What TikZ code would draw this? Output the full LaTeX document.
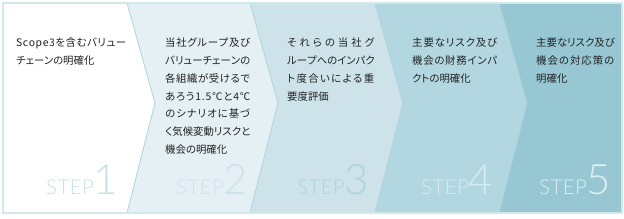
\documentclass[tikz,border=0pt]{standalone}
\usepackage{xcolor}
\usepackage{fontspec}
\usepackage{tikz}
\newfontfamily\jpfont[RawFeature=+palt]{Noto Sans CJK JP}
\newfontfamily\stepfont[LetterSpace=2]{Lato Light}
\definecolor{cerceveMavi}{HTML}{D3E8EC}
\definecolor{ayracMavi}{HTML}{ADD3DD}
\definecolor{yaziSiyah}{HTML}{222222}
\definecolor{zeminBir}{HTML}{FFFFFF}
\definecolor{zeminIki}{HTML}{E4F0F3}
\definecolor{zeminUc}{HTML}{CDE3E9}
\definecolor{zeminDort}{HTML}{B2D7E0}
\definecolor{zeminBes}{HTML}{97C7D3}
\definecolor{adimBir}{HTML}{C8E1E8}
\definecolor{adimIki}{HTML}{CCE3E9}
\definecolor{adimUc}{HTML}{AED4DE}
\definecolor{adimDort}{HTML}{D6EBF0}
\definecolor{adimBes}{HTML}{DCEEF2}
\newcommand{\adimyaz}[1]{{\fontsize{20.5}{20.5}\selectfont STEP}{\fontsize{42}{42}\selectfont\kern-1pt #1}}
% iki yana yaslanmis satir
\newlength{\satirgenis}
\def\yayi#1{\ifx#1\relax\unskip\else#1\hfil\expandafter\yayi\fi}
\newcommand{\yay}[1]{\makebox[\satirgenis][s]{\yayi#1\relax}}

\begin{document}
\begin{tikzpicture}[x=1pt,y=-1pt,
  metin/.style={anchor=north west,inner sep=0pt,align=left,text=yaziSiyah,
    font=\jpfont\fontsize{10.4}{17.7}\selectfont,
    execute at begin node={\setlength{\satirgenis}{#1pt}}},
  adim/.style={anchor=base west,inner sep=0pt,font=\stepfont}]
\useasboundingbox (0,0) rectangle (624,218);
% zeminler
\fill[zeminBir] (3,3)--(127,3)--(155,103)--(127,213)--(3,213)--cycle;
\fill[zeminIki] (127,3)--(250,3)--(278,103)--(250,213)--(127,213)--(155,103)--cycle;
\fill[zeminUc] (250,3)--(375,3)--(403,103)--(375,213)--(250,213)--(278,103)--cycle;
\fill[zeminDort] (375,3)--(499,3)--(527,103)--(499,213)--(375,213)--(403,103)--cycle;
\fill[zeminBes] (499,3)--(622,3)--(622,213)--(499,213)--(527,103)--cycle;
% ayraclar
\draw[ayracMavi,line width=0.8pt] (127,3)--(155,103)--(127,213);
\draw[ayracMavi,line width=0.8pt] (250,3)--(278,103)--(250,213);
\draw[ayracMavi,line width=0.8pt] (375,3)--(403,103)--(375,213);
\draw[ayracMavi,line width=0.8pt] (499,3)--(527,103)--(499,213);
\draw[cerceveMavi,line width=2pt] (3,3) rectangle (622,213);
% metinler
\node[metin=110] (metin1) at (16,38) {\yay{Scope3を含むバリュー}\\チェーンの明確化};
\node[metin=85] (metin2) at (165,38) {\yay{当社グループ及び}\\\yay{バリューチェーンの}\\\yay{各組織が受けるで}\\\yay{あろう1.5℃と4℃}\\\yay{のシナリオに基づ}\\\yay{く気候変動リスクと}\\機会の明確化};
\node[metin=87] (metin3) at (287,38) {\yay{それらの当社グ}\\\yay{ループへのインパク}\\\yay{ト度合いによる重}\\要度評価};
\node[metin=85] (metin4) at (412,38) {\yay{主要なリスク及び}\\\yay{機会の財務インパ}\\クトの明確化};
\node[metin=78] (metin5) at (536,38) {\yay{主要なリスク及び}\\\yay{機会の対応策の}\\明確化};
% adimlar
\node[adim,text=adimBir] (adim1) at (46,194) {\adimyaz{1}};
\node[adim,text=adimIki] (adim2) at (176,194) {\adimyaz{2}};
\node[adim,text=adimUc] (adim3) at (297,194) {\adimyaz{3}};
\node[adim,text=adimDort] (adim4) at (421,194) {\adimyaz{4}};
\node[adim,text=adimBes] (adim5) at (539,194) {\adimyaz{5}};
\end{tikzpicture}
\end{document}
